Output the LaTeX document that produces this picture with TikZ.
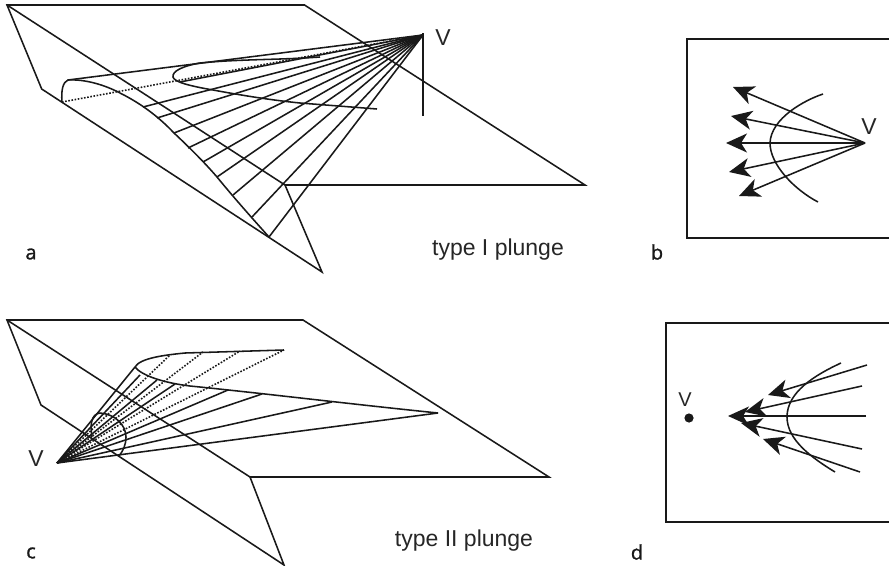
\documentclass[tikz,border=0pt]{standalone}
\usepackage{fontspec}
\setmainfont{Liberation Sans}
\newfontfamily\lblfont[FakeBold=1.2]{Open Sans}
\usetikzlibrary{arrows.meta}
\tikzset{
  ln/.style={line width=1.55pt,line join=miter,draw=black!90},
  dots/.style={line width=1.6pt,draw=black!90,dash pattern=on 1.6pt off 1.6pt},
  arr/.style={line width=1.55pt,draw=black!90,-{Stealth[length=21pt,width=19pt,inset=6pt]}},
  panel/.style={font=\lblfont\fontsize{20}{20}\selectfont,inner sep=0pt,text=black!90},
  captext/.style={font=\fontsize{23}{25}\selectfont,inner sep=0pt,text=black!85},
  vl/.style={font=\fontsize{23}{23}\selectfont,inner sep=0pt,text=black!85}
}
\begin{document}
\begin{tikzpicture}[x=1pt,y=-1pt]
\useasboundingbox (0,0) rectangle (889,565);
% ---- panel a
\coordinate (Va) at (423,35);
\draw[ln] (41.7,89) -- (7,5) -- (304.5,5) -- (585,185) -- (285,185) -- (322,272) -- cycle;
\draw[ln] (7,5) -- (285,185);
\draw[ln] (423,33) -- (423,116);
\draw[ln] (62,102) .. controls (61,90) and (63,82) .. (68,80)
  .. controls (85,79) and (105,85) .. (120,93)
  .. controls (140,103) and (158,116) .. (174,133)
  .. controls (190,148) and (205,163) .. (217,177)
  .. controls (235,199) and (252,218) .. (269,237);
\draw[ln] (68,80) -- (Va);
\draw[dots] (62,102) -- (Va);
\draw[ln] (320,57) .. controls (280,60) and (240,59) .. (200,63)
  .. controls (183,66) and (172,71) .. (173,77)
  .. controls (174,82) and (190,86) .. (213,90)
  .. controls (240,95) and (270,100) .. (300,103) -- (377,109);
\foreach \p in {(180,82),(143,107),(157,118),(174,133),(188,148),(203,162),(217,177),(233,195),(252,217),(269,237)}
  \draw[ln] \p -- (Va);
\node[captext] (capa) at (498,249.5) {type I plunge};
\node[vl] (va) at (443,38) {V};
\node[panel] (la) at (31,254) {a};
% ---- panel b
\coordinate (Vb) at (865,143);
\draw[ln] (889,39) -- (687,39) -- (687,238) -- (889,238);
\draw[ln] (823,94) .. controls (805,100) and (771,118) .. (770,143)
  .. controls (770,165) and (795,190) .. (818,202);
\foreach \p in {(733,87),(731,116),(726,143),(729,172),(739,196)}
  \draw[arr] (Vb) -- \p;
\node[vl] (vb) at (869,127) {V};
\node[panel] (lb) at (657,252) {b};
% ---- panel c
\coordinate (Vc) at (57,463);
\draw[ln] (41,405) -- (7,320) -- (303,320) -- (549,477) -- (250,477) -- (284,565) -- cycle;
\draw[ln] (7,320) -- (250,477);
\draw[ln] (135,367) .. controls (140,358) and (165,355) .. (185,353) -- (284,350);
\draw[ln] (135,367) .. controls (142,376) and (165,383) .. (190,386)
  .. controls (260,393) and (350,404) .. (438,413);
\foreach \p in {(135,367),(140,375),(157,380),(175,384),(228,390),(262,394),(332,402),(438,413)}
  \draw[ln] (Vc) -- \p;
\foreach \p in {(170,355),(203,352),(240,351),(284,350)}
  \draw[dots] (Vc) -- \p;
\draw[ln] (92,437) .. controls (90,425) and (91,414) .. (100,413)
  .. controls (115,414) and (126,425) .. (126,437)
  .. controls (126,445) and (123,451) .. (119,456);
\node[captext] (capc) at (464,541) {type II plunge};
\node[vl] (vc) at (36,459) {V};
\node[panel] (lc) at (31,553) {c};
% ---- panel d
\draw[ln] (889,323) -- (666,323) -- (666,522) -- (889,522);
\draw[ln] (841,363) .. controls (815,375) and (787,392) .. (787,417)
  .. controls (787,440) and (812,458) .. (835,472);
\draw[arr] (867,365) -- (768,395);
\draw[arr] (862,386) -- (745,412);
\draw[arr] (866,416) -- (728,416);
\draw[arr] (862,449) -- (741,423);
\draw[arr] (860,472) -- (763,439);
\fill[black!90] (689,418) circle (4.6);
\node[vl,font=\fontsize{20}{20}\selectfont] (vd) at (685,400) {V};
\node[panel] (ld) at (637,552) {d};
\end{tikzpicture}
\end{document}
